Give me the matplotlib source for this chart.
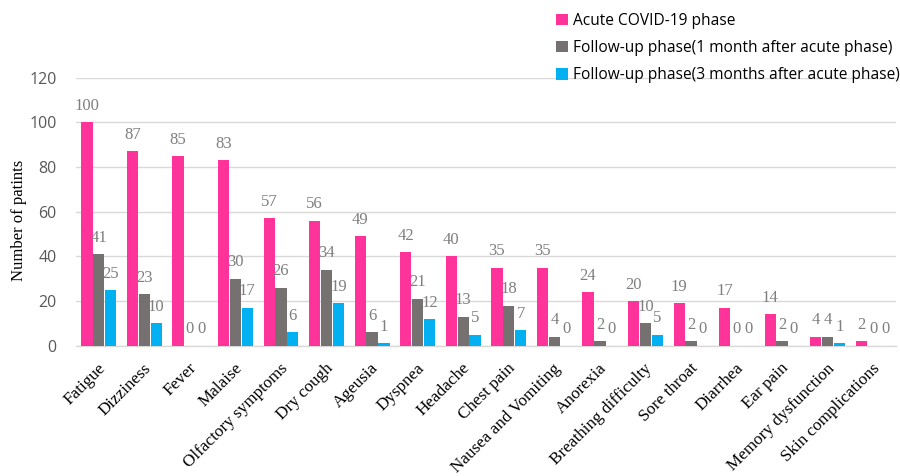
import matplotlib
matplotlib.use("Agg")
import matplotlib.pyplot as plt
import numpy as np
from matplotlib.patches import Patch
import matplotlib.transforms as mtransforms

categories = ["Fatigue", "Dizziness", "Fever", "Malaise", "Olfactory symptoms", "Dry cough",
              "Ageusia", "Dyspnea", "Headache", "Chest pain", "Nausea and Vomiting", "Anorexia",
              "Breathing difficulty", "Sore throat", "Diarrhea", "Ear pain", "Memory dysfunction",
              "Skin complications"]
acute = [100, 87, 85, 83, 57, 56, 49, 42, 40, 35, 35, 24, 20, 19, 17, 14, 4, 2]
month1 = [41, 23, 0, 30, 26, 34, 6, 21, 13, 18, 4, 2, 10, 2, 0, 2, 4, 0]
month3 = [25, 10, 0, 17, 6, 19, 1, 12, 5, 7, 0, 0, 5, 0, 0, 0, 1, 0]
series_names = ["Acute COVID-19 phase",
                "Follow-up phase(1 month after acute phase)",
                "Follow-up phase(3 months after acute phase)"]
colors = ["#FF3399", "#767171", "#00B0F0"]
yticks = [0, 20, 40, 60, 80, 100, 120]

fig = plt.figure(figsize=(9, 4.76), dpi=100)
ax = fig.add_axes([76/900, 1-345.7/476, 820/900, 268/476])

n = len(categories)
x = np.arange(n)
w = 0.26
serif = "Liberation Serif"
sans = "Open Sans"
for i, (vals, c) in enumerate(zip([acute, month1, month3], colors)):
    pos = x + (i - 1) * w
    ax.bar(pos, vals, width=w * 0.95, color=c, zorder=3)
    for p, v in zip(pos, vals):
        ax.annotate(str(v), (p, v), xytext=(0, 6), textcoords="offset points",
                    ha="center", va="bottom", fontsize=12, color="#7F7F7F",
                    family=serif, zorder=4)

ax.set_xlim(-0.5, n - 0.5)
ax.set_ylim(0, 120)
ax.set_yticks(yticks)
ax.set_yticklabels([str(t) for t in yticks], fontsize=11.5, color="#595959", family=sans)
ax.yaxis.grid(True, color="#D9D9D9", linewidth=1, zorder=0)
ax.tick_params(axis="y", length=0, pad=14)
ax.tick_params(axis="x", length=0)
for s in ["top", "right", "left"]:
    ax.spines[s].set_visible(False)
ax.spines["bottom"].set_color("#D9D9D9")
ax.spines["bottom"].set_linewidth(1)
ax.spines["bottom"].set_zorder(2)

ax.set_xticks(x)
ax.set_xticklabels(categories, rotation=45, ha="right", va="top", rotation_mode="anchor",
                   fontsize=12.3, family=serif, color="#000000")
offset = mtransforms.ScaledTranslation(-1/72, -7/72, fig.dpi_scale_trans)
for lab in ax.get_xticklabels():
    lab.set_transform(lab.get_transform() + offset)

ax.set_ylabel("Number of patints", fontsize=12, family=serif, color="#000000")
ax.yaxis.set_label_coords(-49/820, 0.468)

handles = [Patch(facecolor=c, edgecolor="none") for c in colors]
fig.legend(handles, series_names, loc="upper left", bbox_to_anchor=(556/900, 1 - 13/476),
           frameon=False, prop={"family": sans, "size": 11.2},
           handlelength=0.75, handleheight=0.75, handletextpad=0.35, labelspacing=0.72,
           borderaxespad=0, borderpad=0)
fig.savefig("out.png", dpi=100)
